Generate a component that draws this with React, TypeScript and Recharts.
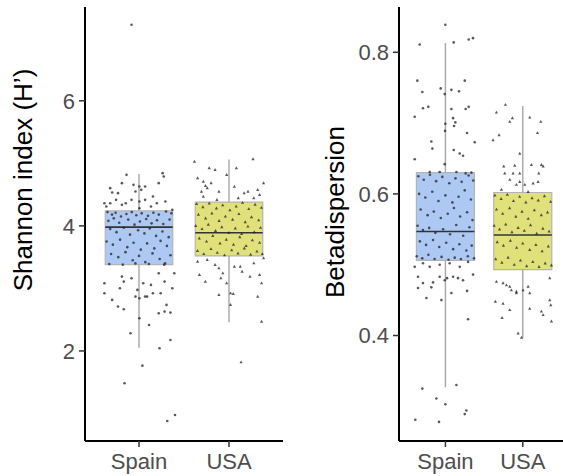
import React from 'react';
import { ComposedChart, Scatter, XAxis, YAxis, ReferenceArea, ReferenceLine, Label } from 'recharts';

const categories = ['Spain', 'USA'];
const categoryTicks = [1, 2];
const shannonTicks = [2, 4, 6];
const betaTicks = [0.4, 0.6, 0.8];

const shannonStats = [
  { pos: 1, min: 2.05, q1: 3.38, median: 3.98, q3: 4.24, max: 4.83 },
  { pos: 2, min: 2.46, q1: 3.52, median: 3.89, q3: 4.38, max: 5.06 },
];
const betaStats = [
  { pos: 1, min: 0.327, q1: 0.506, median: 0.547, q3: 0.63, max: 0.813 },
  { pos: 2, min: 0.396, q1: 0.493, median: 0.542, q3: 0.602, max: 0.724 },
];

const shannonSpain: [number, number][] = [
  [0.917, 7.216],
  [0.861, 4.816], [1.262, 4.843], [1.275, 4.789], [0.68, 4.603], [0.81, 4.683], [0.939, 4.656], [1.004, 4.629],
  [1.068, 4.629], [1.219, 4.683], [0.702, 4.533], [0.767, 4.523], [0.961, 4.549], [1.025, 4.576], [1.155, 4.469],
  [0.616, 4.363], [0.68, 4.363], [0.745, 4.416], [0.853, 4.363], [0.917, 4.416], [1.004, 4.389], [1.068, 4.416],
  [1.198, 4.363], [1.293, 4.389], [0.637, 4.309], [0.81, 4.336], [1.004, 4.283], [1.133, 4.309], [1.37, 4.256],
  [0.65, 4.22], [0.7, 4.18], [0.74, 4.21], [0.8, 4.15], [0.86, 4.19], [0.92, 4.22], [0.97, 4.17], [1.03, 4.2],
  [1.1, 4.16], [1.16, 4.21], [1.22, 4.18], [1.3, 4.23], [1.36, 4.2],
  [0.66, 4.08], [0.72, 4.12], [0.78, 4.05], [0.88, 4.1], [0.95, 4.02], [1.01, 4.07], [1.08, 4.11], [1.14, 4.04],
  [1.2, 4.09], [1.27, 4.03], [1.34, 4.1],
  [0.68, 3.95], [0.75, 3.9], [0.83, 3.97], [0.9, 3.86], [0.99, 3.93], [1.06, 3.88], [1.12, 3.96], [1.19, 3.84],
  [1.26, 3.91], [1.33, 3.82],
  [0.64, 3.75], [0.71, 3.7], [0.79, 3.78], [0.87, 3.66], [0.94, 3.73], [1.02, 3.62], [1.09, 3.72], [1.17, 3.64],
  [1.24, 3.76], [1.31, 3.68],
  [0.69, 3.55], [0.77, 3.5], [0.85, 3.58], [0.93, 3.45], [1.0, 3.52], [1.07, 3.42], [1.15, 3.56], [1.23, 3.47],
  [1.29, 3.4], [1.35, 3.53],
  [0.67, 3.39], [0.82, 3.38], [0.96, 3.4], [1.11, 3.39], [1.28, 3.38],
  [0.616, 3.083], [0.81, 3.189], [0.831, 3.109], [0.917, 3.163], [1.047, 3.083], [1.133, 3.056], [1.219, 3.243],
  [1.284, 3.109], [1.392, 3.243], [0.616, 2.923], [0.702, 2.816], [0.788, 3.003], [0.982, 2.976], [1.068, 2.869],
  [1.155, 2.923], [1.241, 2.923], [1.37, 3.003], [0.767, 2.709], [0.831, 2.667], [0.961, 2.869], [1.004, 2.843],
  [1.09, 2.869], [1.306, 2.736], [1.219, 2.603], [1.284, 2.629], [1.349, 2.613], [1.004, 2.523], [1.112, 2.416],
  [0.905, 2.283], [1.349, 2.176], [1.228, 2.043], [1.038, 1.765], [0.84, 1.483], [1.314, 0.88], [1.4, 0.976],
];

const shannonUSA: [number, number][] = [
  [1.616, 5.029], [1.78, 4.923], [1.845, 4.896], [2.082, 4.923], [2.267, 5.067], [1.974, 4.816], [1.651, 4.763],
  [1.715, 4.709], [1.801, 4.683], [1.758, 4.603], [1.888, 4.549], [1.694, 4.549], [1.715, 4.469], [2.211, 4.549],
  [2.319, 4.576], [2.384, 4.683], [2.168, 4.523], [2.276, 4.443], [2.34, 4.496], [1.866, 4.416], [2.103, 4.443],
  [1.738, 4.64], [2.06, 4.629],
  [1.64, 4.35], [1.71, 4.3], [1.78, 4.36], [1.86, 4.28], [1.93, 4.33], [2.01, 4.25], [2.08, 4.31], [2.15, 4.37],
  [2.22, 4.27], [2.29, 4.34], [2.36, 4.29],
  [1.66, 4.18], [1.74, 4.12], [1.81, 4.2], [1.89, 4.08], [1.96, 4.15], [2.04, 4.1], [2.11, 4.19], [2.18, 4.06],
  [2.25, 4.14], [2.33, 4.09],
  [1.63, 4.0], [1.7, 3.95], [1.77, 4.02], [1.85, 3.92], [1.92, 3.98], [2.0, 3.89], [2.07, 3.96], [2.14, 3.87],
  [2.21, 3.99], [2.28, 3.9], [2.35, 3.97],
  [1.67, 3.8], [1.75, 3.75], [1.82, 3.84], [1.9, 3.72], [1.97, 3.78], [2.05, 3.7], [2.12, 3.82], [2.19, 3.68],
  [2.26, 3.77], [2.34, 3.73],
  [1.65, 3.6], [1.72, 3.55], [1.8, 3.63], [1.87, 3.57], [1.95, 3.53], [2.03, 3.61], [2.1, 3.56], [2.17, 3.64],
  [2.24, 3.54], [2.31, 3.59], [2.37, 3.55],
  [1.651, 3.429], [1.758, 3.456], [1.845, 3.376], [1.888, 3.323], [1.931, 3.243], [2.06, 3.349], [2.125, 3.349],
  [2.146, 3.269], [2.276, 3.403], [2.384, 3.483], [1.672, 3.216], [1.737, 3.109], [1.909, 3.163], [1.974, 3.083],
  [2.233, 3.189], [2.34, 3.216], [2.362, 3.083], [1.888, 2.896], [2.017, 2.923], [2.047, 2.912], [2.319, 2.869],
  [2.017, 2.736], [2.362, 2.469], [2.134, 1.819],
];

const betaSpain: [number, number][] = [
  [0.999, 0.839], [0.667, 0.811], [1.107, 0.814], [1.301, 0.818], [1.357, 0.82], [0.637, 0.76], [0.702, 0.744],
  [0.939, 0.749], [1.077, 0.747], [1.25, 0.76], [1.176, 0.745], [0.991, 0.741], [0.71, 0.721], [0.779, 0.723],
  [0.603, 0.709], [1.077, 0.72], [1.262, 0.72], [1.301, 0.723], [1.099, 0.707], [0.999, 0.699], [1.129, 0.701],
  [1.112, 0.696], [0.995, 0.689], [1.28, 0.686], [0.818, 0.674], [0.831, 0.664], [1.379, 0.673], [1.107, 0.662],
  [1.185, 0.657], [1.228, 0.654], [0.603, 0.649], [0.991, 0.642], [0.926, 0.631], [1.142, 0.631], [1.262, 0.629],
  [1.336, 0.63], [0.797, 0.631],
  [0.65, 0.625], [0.72, 0.62], [0.8, 0.627], [0.88, 0.618], [0.96, 0.624], [1.05, 0.615], [1.13, 0.622], [1.21, 0.617],
  [1.3, 0.626], [1.36, 0.619],
  [0.66, 0.6], [0.74, 0.595], [0.83, 0.603], [0.91, 0.59], [1.0, 0.598], [1.09, 0.588], [1.17, 0.596], [1.25, 0.605],
  [1.33, 0.592],
  [0.68, 0.578], [0.77, 0.57], [0.85, 0.575], [0.94, 0.566], [1.03, 0.572], [1.11, 0.58], [1.19, 0.568], [1.28, 0.574],
  [1.35, 0.563],
  [0.64, 0.555], [0.71, 0.549], [0.79, 0.552], [0.87, 0.545], [0.97, 0.55], [1.06, 0.543], [1.14, 0.556], [1.23, 0.541],
  [1.31, 0.553],
  [0.67, 0.533], [0.75, 0.528], [0.84, 0.535], [0.92, 0.525], [1.01, 0.531], [1.1, 0.522], [1.18, 0.529], [1.27, 0.52],
  [1.34, 0.527],
  [0.63, 0.512], [0.7, 0.509], [0.78, 0.514], [0.86, 0.508], [0.95, 0.511], [1.04, 0.507], [1.12, 0.51], [1.2, 0.508],
  [1.29, 0.512], [1.37, 0.509],
  [0.603, 0.497], [0.71, 0.502], [0.797, 0.497], [0.926, 0.5], [1.055, 0.502], [1.185, 0.497], [1.293, 0.504],
  [0.646, 0.483], [0.71, 0.474], [0.84, 0.475], [0.926, 0.483], [0.991, 0.478], [1.021, 0.481], [1.099, 0.483],
  [1.163, 0.481], [1.228, 0.478], [1.357, 0.486], [0.646, 0.467], [0.818, 0.468], [0.754, 0.453], [0.948, 0.45],
  [1.077, 0.46], [1.28, 0.463], [1.293, 0.423], [0.702, 0.325], [1.142, 0.33], [0.883, 0.311], [0.999, 0.303],
  [1.271, 0.294], [1.25, 0.289], [0.611, 0.281], [0.917, 0.278],
];

const betaUSA: [number, number][] = [
  [1.776, 0.726], [1.659, 0.715], [1.866, 0.707], [1.832, 0.702], [2.09, 0.708], [2.233, 0.702], [2.19, 0.686],
  [1.616, 0.676], [1.694, 0.683], [1.961, 0.657], [1.754, 0.639], [1.896, 0.64], [2.112, 0.641], [2.241, 0.641],
  [2.263, 0.639], [1.767, 0.629], [1.875, 0.629], [1.961, 0.629], [2.207, 0.629], [1.832, 0.62], [1.918, 0.613],
  [2.026, 0.613], [2.134, 0.615], [2.198, 0.617], [1.961, 0.617], [2.069, 0.603], [1.724, 0.606],
  [1.64, 0.598], [1.72, 0.593], [1.8, 0.599], [1.88, 0.59], [1.96, 0.596], [2.04, 0.588], [2.12, 0.594], [2.2, 0.591],
  [2.28, 0.597], [2.36, 0.589],
  [1.66, 0.578], [1.74, 0.572], [1.83, 0.58], [1.91, 0.568], [1.99, 0.575], [2.07, 0.565], [2.15, 0.577], [2.24, 0.57],
  [2.32, 0.574],
  [1.63, 0.555], [1.7, 0.55], [1.78, 0.557], [1.86, 0.546], [1.94, 0.552], [2.02, 0.548], [2.1, 0.556], [2.18, 0.544],
  [2.26, 0.551], [2.34, 0.547],
  [1.67, 0.532], [1.75, 0.527], [1.84, 0.534], [1.92, 0.524], [2.0, 0.53], [2.09, 0.521], [2.17, 0.528], [2.25, 0.519],
  [2.33, 0.526],
  [1.65, 0.508], [1.73, 0.503], [1.81, 0.51], [1.89, 0.5], [1.97, 0.506], [2.05, 0.498], [2.13, 0.504], [2.21, 0.497],
  [2.29, 0.502], [2.37, 0.499],
  [2.349, 0.481], [1.659, 0.476], [1.745, 0.474], [1.789, 0.471], [1.853, 0.464], [1.918, 0.462], [1.918, 0.46],
  [2.004, 0.464], [2.09, 0.46], [2.069, 0.469], [1.832, 0.469], [1.646, 0.448], [1.745, 0.445], [1.832, 0.436],
  [2.349, 0.45], [2.362, 0.443], [2.241, 0.434], [2.263, 0.429], [2.371, 0.42], [1.733, 0.425], [2.09, 0.438],
  [1.94, 0.403], [1.983, 0.397],
];

const boxFills = ['#aec8f4', '#e1e17b'];
const FONT = '"Liberation Sans", Arial, Helvetica, sans-serif';
const HALF = 0.375;

const toPts = (arr: [number, number][]) => arr.map(([x, y]) => ({ x, y }));

const Dot = (p: any) =>
  p.cx == null ? null : <circle cx={p.cx} cy={p.cy} r={1.3} fill="#222" fillOpacity={0.75} />;
const Tri = (p: any) =>
  p.cx == null ? null : (
    <polygon
      points={`${p.cx},${p.cy - 1.8} ${p.cx - 1.6},${p.cy + 1.1} ${p.cx + 1.6},${p.cy + 1.1}`}
      fill="#222"
      fillOpacity={0.75}
    />
  );

type PanelProps = {
  width: number;
  yAxisWidth: number;
  xDomain: [number, number];
  yDomain: [number, number];
  yTicks: number[];
  yFormat: (v: number) => string;
  stats: typeof shannonStats;
  spain: [number, number][];
  usa: [number, number][];
  title: string;
  titleX: number;
  titleShift: number;
};

function Panel(props: PanelProps) {
  const { width, yAxisWidth, xDomain, yDomain, yTicks, yFormat, stats, spain, usa, title, titleX, titleShift } = props;
  const renderTitle = (lp: any) => {
    const vb = lp && lp.viewBox ? lp.viewBox : { x: 0, y: 7, width: yAxisWidth, height: 434 };
    const cx = vb.x + titleX;
    const cy = vb.y + vb.height / 2 + titleShift;
    return (
      <text
        x={cx}
        y={cy}
        transform={`rotate(-90, ${cx}, ${cy})`}
        textAnchor="middle"
        dominantBaseline="central"
        fontSize={26}
        fontFamily={FONT}
        fill="#000"
      >
        {title}
      </text>
    );
  };
  return (
    <ComposedChart width={width} height={476} margin={{ top: 7, right: 0, bottom: 0, left: 0 }}>
      <XAxis
        type="number"
        dataKey="x"
        domain={xDomain}
        ticks={categoryTicks}
        tickFormatter={(v: number) => categories[Math.round(v) - 1]}
        height={35}
        axisLine={{ stroke: '#000', strokeWidth: 2 }}
        tickLine={{ stroke: '#333', strokeWidth: 1.5 }}
        tickSize={6}
        tickMargin={6}
        tick={{ fill: '#4d4d4d', fontSize: 22, fontFamily: FONT }}
        allowDataOverflow
        interval={0}
      />
      <YAxis
        type="number"
        dataKey="y"
        domain={yDomain}
        ticks={yTicks}
        tickFormatter={yFormat}
        width={yAxisWidth}
        axisLine={{ stroke: '#000', strokeWidth: 2 }}
        tickLine={{ stroke: '#333', strokeWidth: 1.5 }}
        tickSize={6}
        tickMargin={4}
        tick={{ fill: '#4d4d4d', fontSize: 22, fontFamily: FONT }}
        allowDataOverflow
        interval={0}
      >
        <Label content={renderTitle} />
      </YAxis>
      {stats.map((s) => (
        <ReferenceLine
          key={`wu${s.pos}`}
          segment={[{ x: s.pos, y: s.q3 }, { x: s.pos, y: s.max }]}
          stroke="#a6a6a6"
          strokeWidth={1.4}
        />
      ))}
      {stats.map((s) => (
        <ReferenceLine
          key={`wl${s.pos}`}
          segment={[{ x: s.pos, y: s.min }, { x: s.pos, y: s.q1 }]}
          stroke="#a6a6a6"
          strokeWidth={1.4}
        />
      ))}
      {stats.map((s, i) => (
        <ReferenceArea
          key={`b${s.pos}`}
          x1={s.pos - HALF}
          x2={s.pos + HALF}
          y1={s.q1}
          y2={s.q3}
          fill={boxFills[i]}
          fillOpacity={1}
          stroke="#b4b4b4"
          strokeWidth={1.2}
        />
      ))}
      {stats.map((s) => (
        <ReferenceLine
          key={`m${s.pos}`}
          segment={[{ x: s.pos - HALF, y: s.median }, { x: s.pos + HALF, y: s.median }]}
          stroke="#333"
          strokeWidth={1.6}
        />
      ))}
      <Scatter data={toPts(spain)} shape={Dot} isAnimationActive={false} />
      <Scatter data={toPts(usa)} shape={Tri} isAnimationActive={false} />
    </ComposedChart>
  );
}

export default function App() {
  return (
    <div style={{ position: 'absolute', left: 0, top: 0, width: 563, height: 476, display: 'flex', background: '#fff' }}>
      <Panel
        width={283}
        yAxisWidth={85}
        xDomain={[0.4, 2.6]}
        yDomain={[0.56, 7.5]}
        yTicks={shannonTicks}
        yFormat={(v) => String(v)}
        stats={shannonStats}
        spain={shannonSpain}
        usa={shannonUSA}
        title="Shannon index (H’)"
        titleX={23}
        titleShift={-44}
      />
      <Panel
        width={280}
        yAxisWidth={116}
        xDomain={[0.4, 2.52]}
        yDomain={[0.251, 0.864]}
        yTicks={betaTicks}
        yFormat={(v) => v.toFixed(1)}
        stats={betaStats}
        spain={betaSpain}
        usa={betaUSA}
        title="Betadispersion"
        titleX={52}
        titleShift={-12}
      />
    </div>
  );
}
